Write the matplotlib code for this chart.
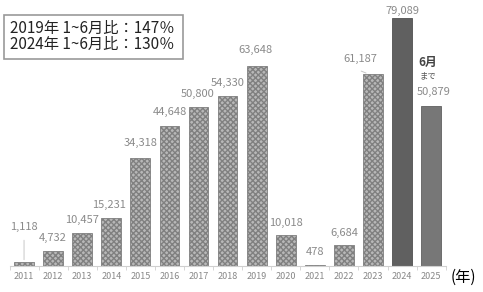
import matplotlib
matplotlib.use('Agg')
import matplotlib.pyplot as plt
from matplotlib.patches import Rectangle

plt.rcParams['font.family'] = ['Noto Sans CJK JP', 'DejaVu Sans']

# yearly values (2025 is Jan-Jun only)
years = ['2011', '2012', '2013', '2014', '2015', '2016', '2017', '2018',
         '2019', '2020', '2021', '2022', '2023', '2024', '2025']
values = [1118, 4732, 10457, 15231, 34318, 44648, 50800, 54330,
          63648, 10018, 478, 6684, 61187, 79089, 50879]
value_labels = ['1,118', '4,732', '10,457', '15,231', '34,318', '44,648', '50,800', '54,330',
                '63,648', '10,018', '478', '6,684', '61,187', '79,089', '50,879']
box_lines = ['2019年 1~6月比：147％', '2024年 1~6月比：130％']

# label offsets in pixels from bar top
offsets = [(0, 36), (0, 13), (0, 13), (-2, 13), (0, 15), (0, 14), (-1, 13), (0, 13),
           (-1, 16), (0, 12), (0, 13), (0, 12), (-13, 15), (0, 7), (2, 14)]

fig = plt.figure(figsize=(4.83, 2.92), dpi=100)
ax = fig.add_axes([9.5 / 483, 26 / 292, 436.2 / 483, 266 / 292])

x = list(range(len(years)))
for i, v in enumerate(values):
    if years[i] == '2024':
        ax.bar(i, v, width=0.68, color='#606060', edgecolor='#505050', linewidth=0.6)
    elif years[i] == '2025':
        ax.bar(i, v, width=0.68, color='#777777', edgecolor='#606060', linewidth=0.6)
    else:
        ax.bar(i, v, width=0.68, color='#b8b8b8', edgecolor='#808080',
               hatch='xxxxxx', linewidth=0.6)

for i, (v, lab) in enumerate(zip(values, value_labels)):
    dx, dy = offsets[i]
    ax.annotate(lab, xy=(i, v), xytext=(dx, dy), textcoords='offset pixels',
                ha='center', va='center', fontsize=8, color='#8a8a8a')

# leader lines
ax.annotate('', xy=(0, values[0]), xytext=(0, 25), textcoords='offset pixels',
            arrowprops=dict(arrowstyle='-', color='#c8c8c8', lw=0.7))
ax.annotate('', xy=(11.85, values[12]), xytext=(-10, 4), textcoords='offset pixels',
            arrowprops=dict(arrowstyle='-', color='#c8c8c8', lw=0.7))

ax.annotate('6月', xy=(14, values[14]), xytext=(-3, 44), textcoords='offset pixels',
            ha='center', va='center', fontsize=8.5, color='#444444', fontweight='bold')
ax.annotate('まで', xy=(14, values[14]), xytext=(-3, 31), textcoords='offset pixels',
            ha='center', va='center', fontsize=6, color='#555555')

ax.set_xlim(-0.5, 14.5)
ax.set_ylim(0, 84800)
ax.set_xticks(x)
ax.set_xticklabels(years, fontsize=6.5, color='#888888')
ax.tick_params(axis='x', which='major', length=0, pad=4)
ax.set_xticks([i + 0.5 for i in range(-1, 15)], minor=True)
ax.tick_params(axis='x', which='minor', length=3, color='#d0d0d0', width=0.6)
ax.set_yticks([])
for s in ['top', 'right', 'left']:
    ax.spines[s].set_visible(False)
ax.spines['bottom'].set_color('#d0d0d0')
ax.spines['bottom'].set_linewidth(0.8)

fig.text(463 / 483, 1 - 277 / 292, '(年)', ha='center', va='center', fontsize=11, color='black')

# summary box
fig.patches.append(Rectangle((4 / 483, 1 - 59 / 292), 179 / 483, 44 / 292,
                             transform=fig.transFigure, facecolor='white',
                             edgecolor='#999999', lw=1.2))
fig.text(10 / 483, 1 - 28 / 292, box_lines[0], ha='left', va='center',
         fontsize=11, color='#222222')
fig.text(10 / 483, 1 - 44 / 292, box_lines[1], ha='left', va='center',
         fontsize=11, color='#222222')

fig.savefig('out.png', dpi=100)
